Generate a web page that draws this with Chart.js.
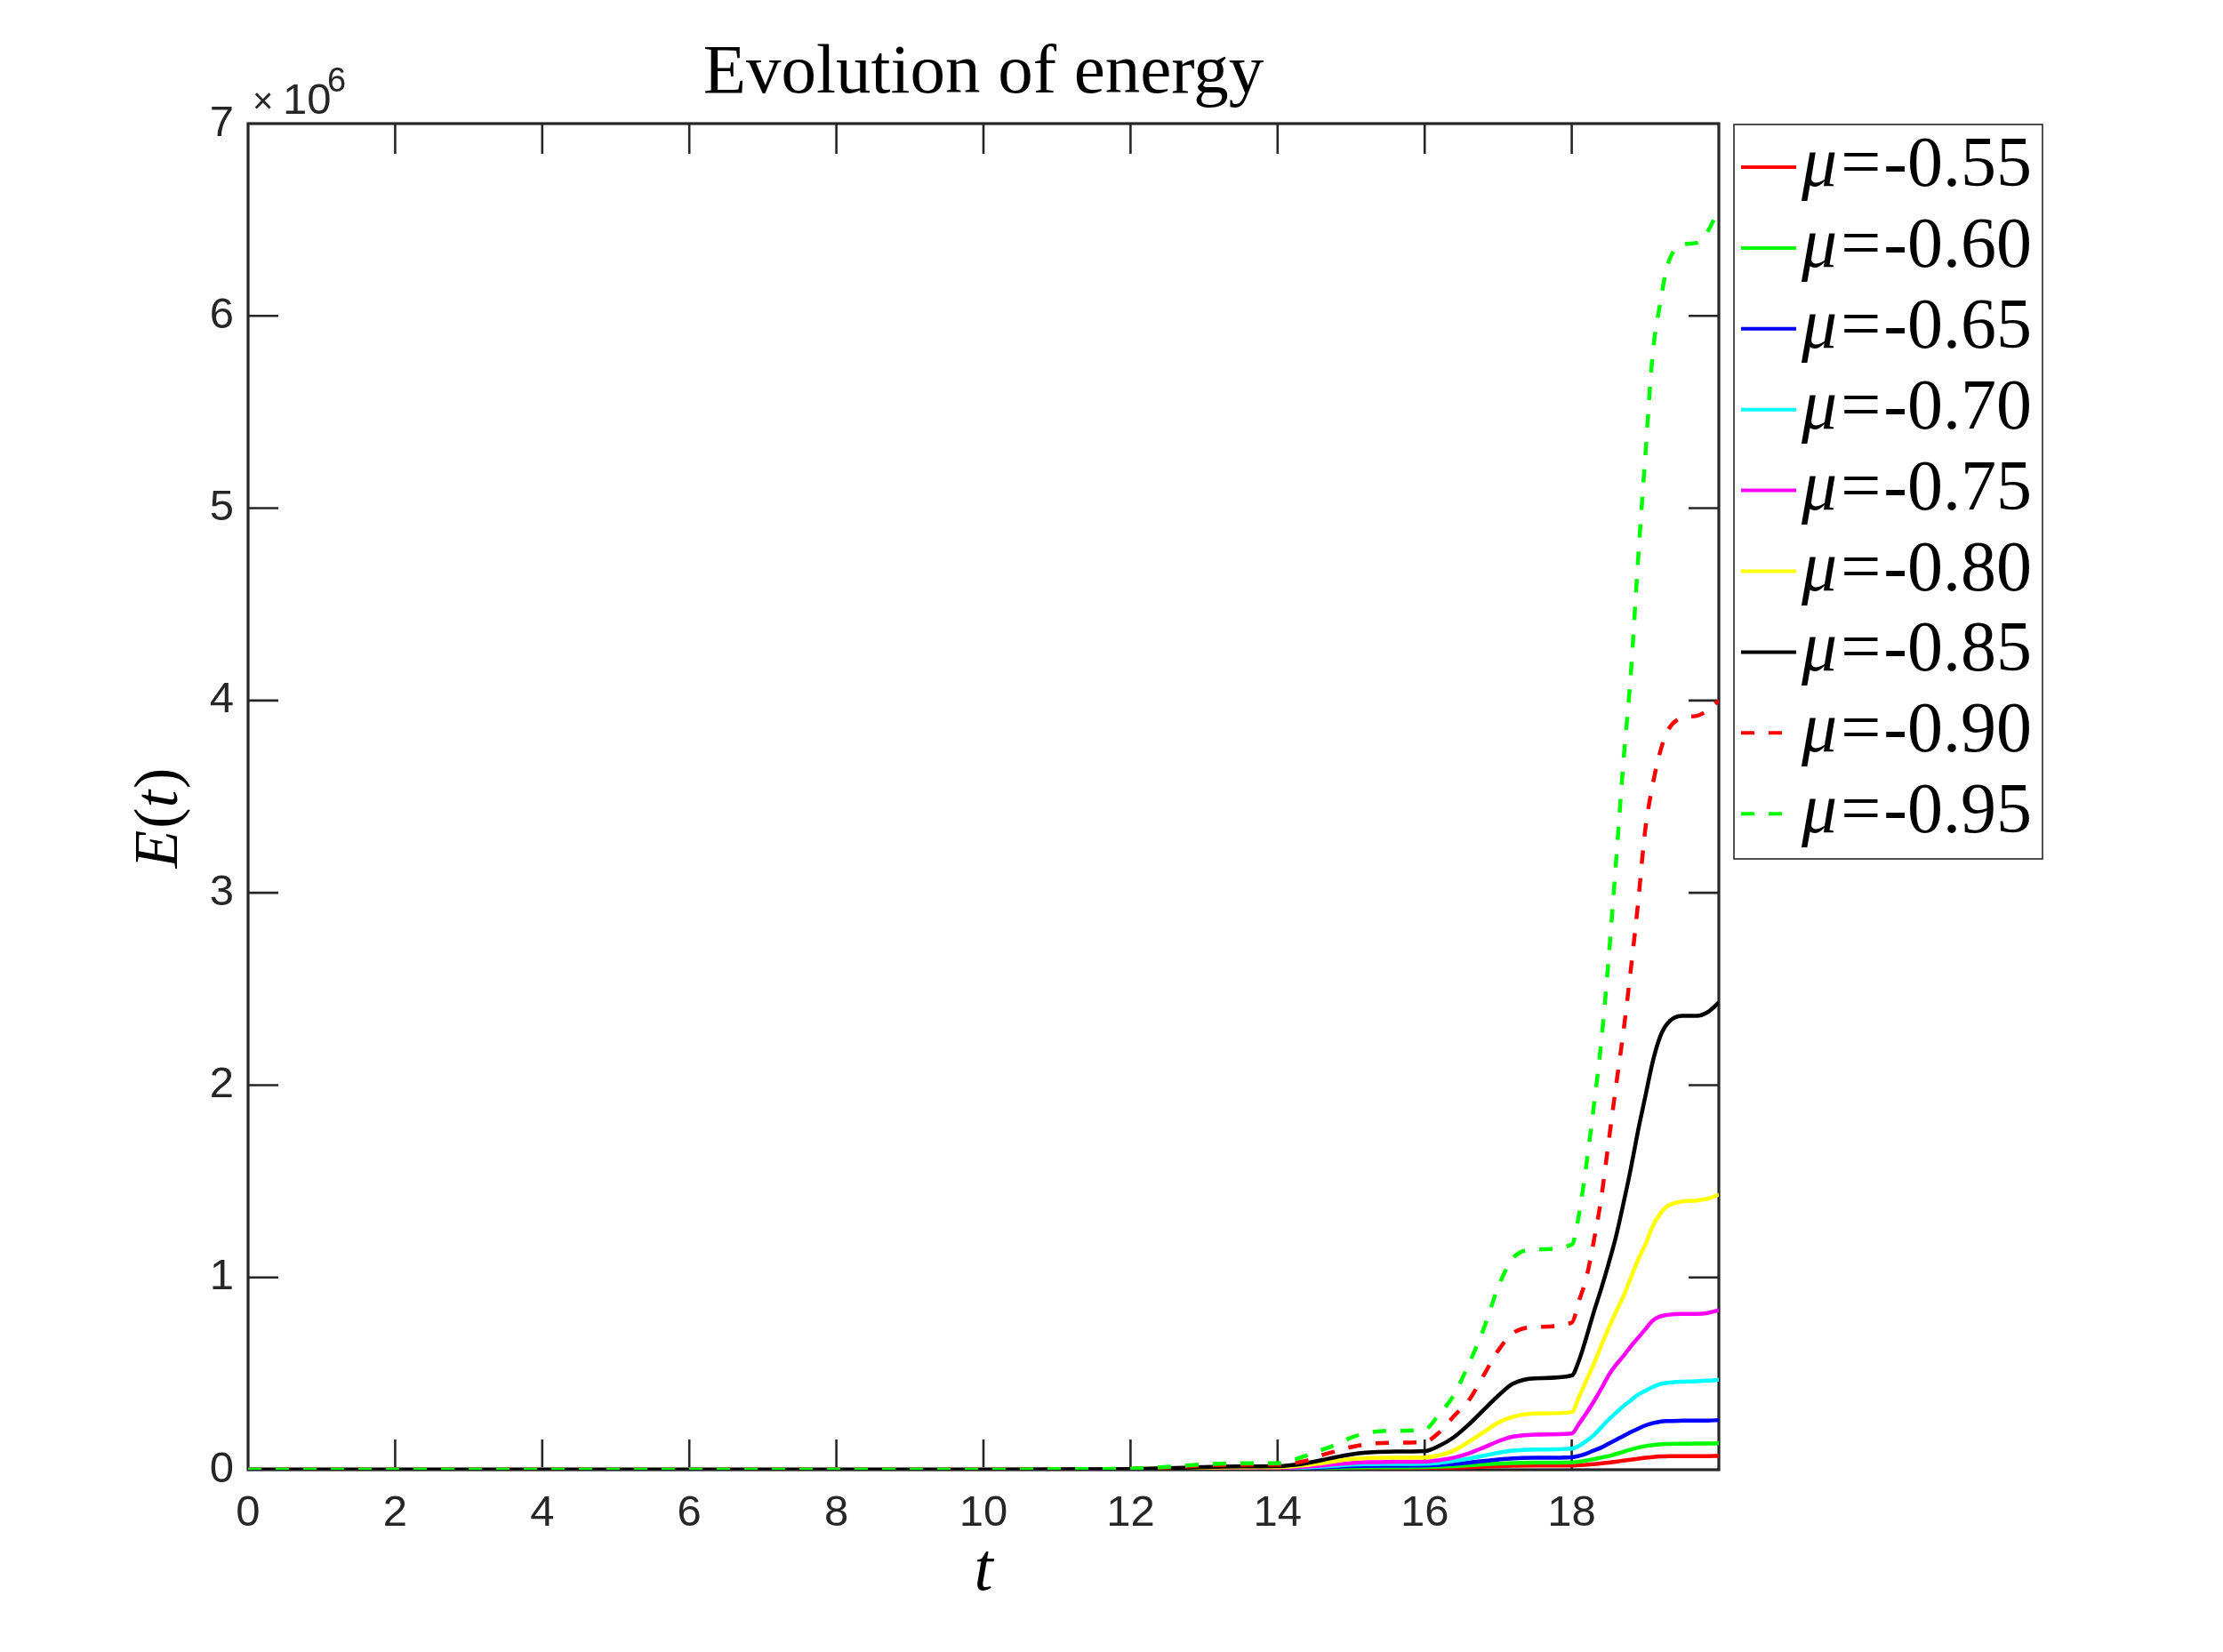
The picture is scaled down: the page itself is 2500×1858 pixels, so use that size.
<!DOCTYPE html>
<html>
<head>
<meta charset="utf-8">
<title>Evolution of energy</title>
<script src="https://cdn.jsdelivr.net/npm/chart.js@4.4.1/dist/chart.umd.min.js"></script>
<style>
  html, body { margin: 0; padding: 0; background: #ffffff; }
  canvas { display: block; }
</style>
</head>
<body>
<canvas id="energy-chart" width="2500" height="1858" style="width:2500px;height:1858px"></canvas>
<script>
// sample times (shared by all curves)
const tVals = [0, 2, 4, 6, 8, 10, 11, 12, 12.5, 13, 13.5,
    14, 14.2, 14.4, 14.6, 14.8, 15, 15.2, 15.5,
    16, 16.2, 16.4, 16.6, 16.8, 17, 17.2, 17.5,
    18, 18.1, 18.2, 18.3, 18.4, 18.5, 18.6, 18.7, 18.8, 18.9, 19, 19.1, 19.2, 19.3,
    19.5, 19.7, 19.85, 20];

// E(t) in units of 10^6
const e055 = [0, 0, 0, 0, 0, 0, 0.0005, 0.001, 0.002, 0.002, 0.003,
    0.003, 0.003, 0.004, 0.005, 0.006, 0.007, 0.008, 0.008,
    0.008, 0.009, 0.011, 0.013, 0.016, 0.019, 0.021, 0.022,
    0.022, 0.024, 0.026, 0.029, 0.033, 0.037, 0.042, 0.047, 0.052, 0.057, 0.062, 0.066, 0.069, 0.070,
    0.071, 0.071, 0.071, 0.072];
const e060 = [0, 0, 0, 0, 0, 0, 0.0005, 0.001, 0.002, 0.003, 0.004,
    0.004, 0.005, 0.006, 0.008, 0.010, 0.012, 0.013, 0.013,
    0.014, 0.016, 0.019, 0.023, 0.028, 0.032, 0.035, 0.037,
    0.038, 0.042, 0.048, 0.055, 0.063, 0.071, 0.082, 0.093, 0.105, 0.115, 0.123, 0.128, 0.132, 0.134,
    0.135, 0.136, 0.136, 0.137];
const e065 = [0, 0, 0, 0, 0, 0, 0.001, 0.002, 0.003, 0.005, 0.006,
    0.006, 0.007, 0.009, 0.012, 0.015, 0.018, 0.020, 0.021,
    0.022, 0.025, 0.030, 0.037, 0.045, 0.053, 0.059, 0.062,
    0.065, 0.072, 0.084, 0.100, 0.115, 0.135, 0.155, 0.175, 0.195, 0.213, 0.230, 0.242, 0.250, 0.253,
    0.255, 0.256, 0.256, 0.258];
const e070 = [0, 0, 0, 0, 0, 0, 0.001, 0.002, 0.003, 0.006, 0.007,
    0.007, 0.009, 0.012, 0.016, 0.021, 0.026, 0.029, 0.030,
    0.031, 0.036, 0.046, 0.058, 0.073, 0.088, 0.099, 0.105,
    0.110, 0.125, 0.150, 0.180, 0.220, 0.260, 0.295, 0.330, 0.360, 0.390, 0.410, 0.430, 0.445, 0.452,
    0.458, 0.460, 0.463, 0.468];
const e075 = [0, 0, 0, 0, 0, 0, 0.001, 0.002, 0.004, 0.007, 0.009,
    0.009, 0.012, 0.016, 0.022, 0.029, 0.035, 0.039, 0.041,
    0.042, 0.050, 0.063, 0.085, 0.115, 0.148, 0.172, 0.183,
    0.188, 0.240, 0.295, 0.355, 0.420, 0.490, 0.545, 0.590, 0.640, 0.685, 0.730, 0.775, 0.797, 0.805,
    0.810, 0.810, 0.815, 0.830];
const e080 = [0, 0, 0, 0, 0, 0, 0.001, 0.003, 0.006, 0.011, 0.013,
    0.013, 0.017, 0.024, 0.034, 0.045, 0.055, 0.060, 0.062,
    0.063, 0.075, 0.100, 0.145, 0.195, 0.245, 0.275, 0.292,
    0.300, 0.380, 0.465, 0.550, 0.645, 0.735, 0.820, 0.900, 0.995, 1.090, 1.170, 1.265, 1.330, 1.370,
    1.395, 1.400, 1.410, 1.430];
const e085 = [0, 0, 0, 0, 0, 0, 0.002, 0.004, 0.008, 0.014, 0.017,
    0.018, 0.024, 0.035, 0.050, 0.066, 0.080, 0.089, 0.094,
    0.097, 0.125, 0.170, 0.235, 0.310, 0.385, 0.447, 0.475,
    0.490, 0.570, 0.690, 0.820, 0.940, 1.070, 1.210, 1.380, 1.560, 1.760, 1.940, 2.120, 2.250, 2.320,
    2.360, 2.360, 2.380, 2.430];
const e090 = [0, 0, 0, 0, 0, 0, 0.002, 0.005, 0.011, 0.022, 0.026,
    0.027, 0.034, 0.048, 0.075, 0.097, 0.118, 0.132, 0.140,
    0.145, 0.195, 0.280, 0.360, 0.490, 0.620, 0.710, 0.742,
    0.765, 0.880, 1.000, 1.190, 1.410, 1.700, 1.990, 2.270, 2.590, 2.940, 3.330, 3.560, 3.730, 3.840,
    3.910, 3.920, 3.950, 4.000];
const e095 = [0, 0, 0, 0, 0, 0, 0.003, 0.006, 0.015, 0.028, 0.033,
    0.034, 0.050, 0.075, 0.103, 0.132, 0.167, 0.190, 0.202,
    0.210, 0.290, 0.390, 0.550, 0.730, 0.950, 1.100, 1.145,
    1.170, 1.330, 1.590, 1.890, 2.220, 2.650, 3.150, 3.670, 4.120, 4.720, 5.270, 5.800, 6.060, 6.260,
    6.370, 6.380, 6.440, 6.560];

const muLabels = ['-0.55', '-0.60', '-0.65', '-0.70', '-0.75', '-0.80', '-0.85', '-0.90', '-0.95'];
const xTickVals = [0, 2, 4, 6, 8, 10, 12, 14, 16, 18];
const yTickVals = [0, 1, 2, 3, 4, 5, 6, 7];

// styles
const lineColors = ['#ff0000', '#00ff00', '#0000ff', '#00ffff', '#ff00ff', '#ffff00', '#000000', '#ff0000', '#00ff00'];
const lineDashes = [[], [], [], [], [], [], [], [15, 16], [15, 16]];
const AXIS_COLOR = '#262626';
const TICK_LEN = 34;
const SANS = '"Liberation Sans", Arial, Helvetica, sans-serif';
const SERIF = '"Liberation Serif", "Times New Roman", serif';

const allSeries = [e055, e060, e065, e070, e075, e080, e085, e090, e095];

// draws a run of text pieces, some italic, left to right
function drawPieces(ctx, pieces, x, y, size) {
    let cx = x;
    pieces.forEach(p => {
        ctx.font = (p.italic ? 'italic ' : '') + size + 'px ' + SERIF;
        ctx.fillText(p.text, cx, y);
        cx += ctx.measureText(p.text).width + (p.gap || 0);
    });
    return cx - x;
}

function piecesWidth(ctx, pieces, size) {
    let w = 0;
    pieces.forEach(p => {
        ctx.font = (p.italic ? 'italic ' : '') + size + 'px ' + SERIF;
        w += ctx.measureText(p.text).width + (p.gap || 0);
    });
    return w;
}

// box, inward ticks (drawn under the curves)
const axesBox = {
    id: 'axesBox',
    beforeDatasetsDraw(chart) {
        const ctx = chart.ctx;
        const a = chart.chartArea;
        const xs = chart.scales.x;
        const ys = chart.scales.y;
        ctx.save();
        ctx.strokeStyle = AXIS_COLOR;
        ctx.lineWidth = 2.6;
        ctx.beginPath();
        xTickVals.forEach(v => {
            const px = xs.getPixelForValue(v);
            if (px <= a.left + 2) return;
            ctx.moveTo(px, a.bottom);
            ctx.lineTo(px, a.bottom - TICK_LEN);
            ctx.moveTo(px, a.top);
            ctx.lineTo(px, a.top + TICK_LEN);
        });
        yTickVals.forEach(v => {
            const py = ys.getPixelForValue(v);
            if (py >= a.bottom - 2 || py <= a.top + 2) return;
            ctx.moveTo(a.left, py);
            ctx.lineTo(a.left + TICK_LEN, py);
            ctx.moveTo(a.right, py);
            ctx.lineTo(a.right - TICK_LEN, py);
        });
        ctx.stroke();
        ctx.lineWidth = 3.2;
        ctx.strokeRect(a.left, a.top, a.right - a.left, a.bottom - a.top);
        ctx.restore();
    }
};

// title, axis labels, exponent and legend
const decorations = {
    id: 'decorations',
    afterDraw(chart) {
        const ctx = chart.ctx;
        const a = chart.chartArea;
        const midX = (a.left + a.right) / 2;
        ctx.save();
        ctx.fillStyle = '#000000';
        ctx.textBaseline = 'alphabetic';

        // title
        ctx.font = '79px ' + SERIF;
        ctx.textAlign = 'center';
        ctx.fillText('Evolution of energy', midX, 104);

        // x label
        ctx.font = 'italic 76px ' + SERIF;
        ctx.fillText('t', midX, 1788);

        // y label, rotated
        ctx.textAlign = 'left';
        const yl = [{ text: 'E', italic: true, gap: 2 }, { text: '(' }, { text: 't', italic: true, gap: 2 }, { text: ')' }];
        const ylw = piecesWidth(ctx, yl, 70);
        ctx.save();
        ctx.translate(199, 920);
        ctx.rotate(-Math.PI / 2);
        drawPieces(ctx, yl, -ylw / 2, 0, 70);
        ctx.restore();

        // exponent label
        ctx.fillStyle = AXIS_COLOR;
        ctx.font = '40px ' + SANS;
        ctx.fillText('\u00d7', a.left + 5, 127);
        ctx.font = '49px ' + SANS;
        ctx.fillText('10', a.left + 39, 128);
        ctx.font = '38px ' + SANS;
        ctx.fillText('6', a.left + 89, 103);

        // legend
        const lx = 1950, ly = 140, lw = 347, lh = 826;
        ctx.strokeStyle = AXIS_COLOR;
        ctx.lineWidth = 1.6;
        ctx.strokeRect(lx, ly, lw, lh);
        chart.data.datasets.forEach((ds, i) => {
            const rowY = 188 + i * 90.9;
            ctx.strokeStyle = ds.borderColor;
            ctx.lineWidth = 4;
            ctx.setLineDash(ds.borderDash || []);
            ctx.beginPath();
            ctx.moveTo(1958, rowY);
            ctx.lineTo(2020, rowY);
            ctx.stroke();
            ctx.setLineDash([]);
            ctx.fillStyle = '#000000';
            drawPieces(ctx, [
                { text: '\u03bc', italic: true, gap: 4 },
                { text: '=', gap: 3 },
                { text: ds.label }
            ], 2026, rowY + 21, 80);
        });
        ctx.restore();
    }
};

const datasets = allSeries.map((vals, i) => ({
    label: muLabels[i],
    data: tVals.map((t, k) => ({ x: t, y: vals[k] })),
    borderColor: lineColors[i],
    backgroundColor: lineColors[i],
    borderDash: lineDashes[i],
    borderWidth: 4.5,
    pointRadius: 0,
    fill: false,
    cubicInterpolationMode: 'monotone',
    order: allSeries.length - i
}));

new Chart(document.getElementById('energy-chart'), {
    type: 'line',
    data: { datasets: datasets },
    plugins: [axesBox, decorations],
    options: {
        responsive: false,
        maintainAspectRatio: false,
        devicePixelRatio: 1,
        animation: false,
        layout: {
            padding: { left: 0, top: 139, right: 567, bottom: 0 }
        },
        plugins: {
            legend: { display: false },
            tooltip: { enabled: false },
            title: { display: false }
        },
        scales: {
            x: {
                type: 'linear',
                min: 0,
                max: 20,
                grid: { display: false, drawTicks: false },
                border: { display: false },
                afterBuildTicks: (scale) => {
                    scale.ticks = xTickVals.map(v => ({ value: v }));
                },
                afterFit: (scale) => { scale.height = 205; },
                ticks: {
                    color: AXIS_COLOR,
                    font: { family: SANS, size: 49 },
                    padding: 20,
                    maxRotation: 0,
                    autoSkip: false
                }
            },
            y: {
                type: 'linear',
                min: 0,
                max: 7,
                grid: { display: false, drawTicks: false },
                border: { display: false },
                afterBuildTicks: (scale) => {
                    scale.ticks = yTickVals.map(v => ({ value: v }));
                },
                afterFit: (scale) => { scale.width = 279; },
                ticks: {
                    color: AXIS_COLOR,
                    font: { family: SANS, size: 49 },
                    padding: 16
                }
            }
        }
    }
});
</script>
</body>
</html>
